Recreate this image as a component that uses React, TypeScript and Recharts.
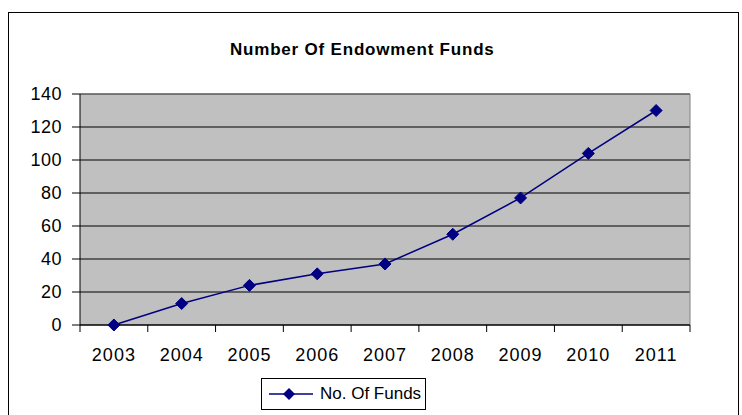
import React from "react";
import {
  CartesianGrid,
  Line,
  LineChart,
  XAxis,
  YAxis,
} from "recharts";

const YEARS = ["2003", "2004", "2005", "2006", "2007", "2008", "2009", "2010", "2011"];
const FUNDS = [0, 13, 24, 31, 37, 55, 77, 104, 130];
const Y_TICKS = [0, 20, 40, 60, 80, 100, 120, 140];

const FONT = '"Liberation Sans", Arial, sans-serif';
const NAVY = "#000080";

const chartData = YEARS.map((year, i) => ({ year, funds: FUNDS[i] }));

function Diamond(props: any) {
  const { cx, cy, index } = props;
  if (cx == null || cy == null) return <g key={index} />;
  const r = 6;
  return (
    <polygon
      key={index}
      points={`${cx},${cy - r} ${cx + r},${cy} ${cx},${cy + r} ${cx - r},${cy}`}
      fill={NAVY}
      stroke={NAVY}
      strokeWidth={1}
    />
  );
}

// category labels sit mid-band, tick marks sit on the band edges (Excel style)
function YearTick(props: any) {
  const { x, y, payload, index, visibleTicksCount } = props;
  const half = payload && payload.offset ? payload.offset : 610 / 9 / 2;
  const last = index === visibleTicksCount - 1;
  return (
    <g>
      <line x1={x - half} y1={y} x2={x - half} y2={y + 7} stroke="#000" />
      {last && <line x1={x + half} y1={y} x2={x + half} y2={y + 7} stroke="#000" />}
      <text x={x} y={y + 23} dy="0.71em" textAnchor="middle" fill="#000" fontSize={18} fontFamily={FONT} letterSpacing={1}>
        {payload.value}
      </text>
    </g>
  );
}

export default function App() {
  return (
    <div style={{ position: "absolute", left: 0, top: 0, width: 742, height: 415, overflow: "hidden", background: "#fff", fontFamily: FONT }}>
      <div style={{ position: "absolute", left: 8, top: 12, width: 731, height: 420, border: "1px solid #000", boxSizing: "border-box" }} />
      <div style={{ position: "absolute", left: 230, top: 41, fontSize: 17, lineHeight: "17px", fontWeight: "bold", letterSpacing: 0.8, color: "#000", whiteSpace: "nowrap" }}>
        Number Of Endowment Funds
      </div>
      <div style={{ position: "absolute", left: 0, top: 0 }}>
        <LineChart width={742} height={415} data={chartData} margin={{ top: 94, right: 52, left: 20, bottom: 50 }}>
          <CartesianGrid vertical={false} stroke="#000" fill="#C0C0C0" />
          <CartesianGrid
            stroke="#808080"
            horizontalCoordinatesGenerator={({ offset }: any) => [offset.top]}
            verticalCoordinatesGenerator={({ offset }: any) => [offset.left + offset.width]}
          />
          <XAxis
            dataKey="year"
            scale="band"
            height={40}
            axisLine={{ stroke: "#000" }}
            tickLine={false}
            tickSize={0}
            tickMargin={0}
            interval={0}
            tick={<YearTick />}
          />
          <YAxis
            domain={[0, 140]}
            ticks={Y_TICKS}
            width={60}
            tickSize={8}
            tickMargin={10}
            axisLine={{ stroke: "#000" }}
            tickLine={{ stroke: "#000" }}
            tick={{ fill: "#000", fontSize: 18, fontFamily: FONT, letterSpacing: 0.5 }}
          />
          <Line
            dataKey="funds"
            name="No. Of Funds"
            stroke={NAVY}
            strokeWidth={1.5}
            dot={Diamond}
            activeDot={false}
            isAnimationActive={false}
          />
        </LineChart>
      </div>
      <div style={{ position: "absolute", left: 261, top: 378, width: 165, height: 32, border: "1px solid #000", boxSizing: "border-box", display: "flex", alignItems: "center" }}>
        <svg width={52} height={20} style={{ marginLeft: 5 }}>
          <line x1={2} y1={10} x2={46} y2={10} stroke={NAVY} strokeWidth={1.5} />
          <polygon points="22,4 28,10 22,16 16,10" fill={NAVY} />
        </svg>
        <span style={{ fontSize: 17, color: "#000", marginLeft: 1 }}>No. Of Funds</span>
      </div>
    </div>
  );
}
